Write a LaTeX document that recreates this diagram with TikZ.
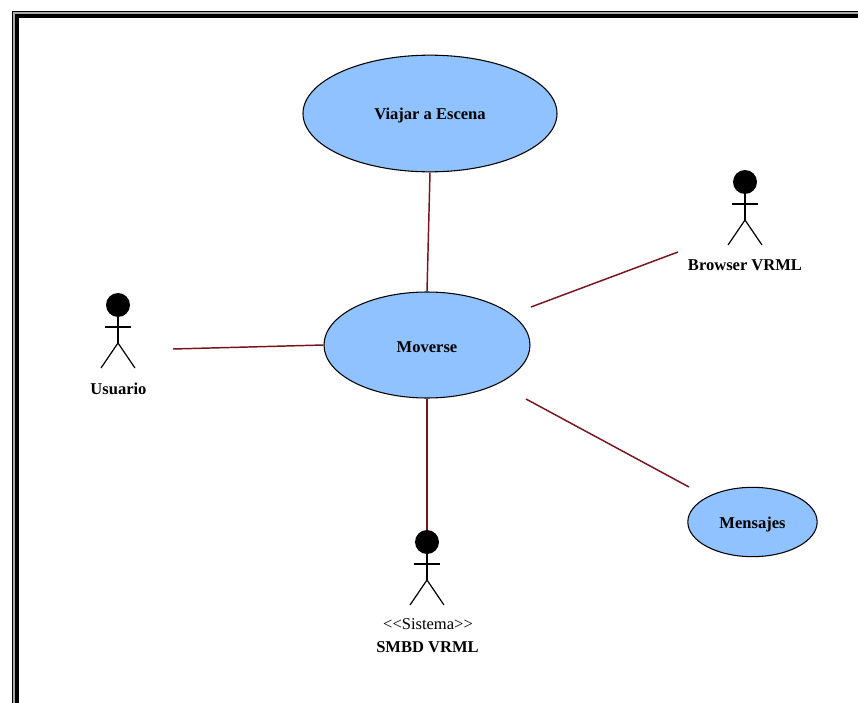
\documentclass[tikz,border=0pt]{standalone}
\usepackage{fontspec}
\setmainfont{Liberation Serif}
\usetikzlibrary{shapes.geometric}
\definecolor{uc}{RGB}{143,194,255}
\definecolor{conn}{RGB}{120,20,30}
\definecolor{fr}{RGB}{170,170,170}
\newcommand{\uctext}[1]{\raisebox{-1.8pt}[\height][\depth]{#1}}
\tikzset{x=0.75pt,y=-0.75pt,
 usecase/.style={ellipse,draw=black,line width=0.8pt,fill=uc,inner sep=0pt,font=\bfseries\fontsize{12.4}{14}\selectfont},
 link/.style={draw=conn,line width=1.1pt},
 limb/.style={draw=black,line width=0.9pt},
 lbl/.style={inner sep=0pt,font=\bfseries\fontsize{12.4}{14}\selectfont},
 stereo/.style={inner sep=0pt,font=\fontsize{12.4}{14}\selectfont}}
\newcommand{\stick}[3]{%
 \fill[black] (#1,#2) circle[radius=12];
 \path[limb] (#1,#2) ++(0,12) -- ++(0,26) coordinate (#3w);
 \path[limb] (#1,#2) ++(-13,22) -- ++(26,0);
 \path[limb] (#3w) -- ++(-17,25);
 \path[limb] (#3w) -- ++(17,25);}
\begin{document}
\begin{tikzpicture}
\useasboundingbox (0,0) rectangle (858,703);
\fill[white] (0,0) rectangle (858,703);
\fill[black] (12,11) rectangle (900,800);
\fill[fr] (13,12) rectangle (900,800);
\fill[black] (15,14) rectangle (900,800);
\fill[white] (18.5,17.5) rectangle (900,800);
\node[usecase,minimum width=190.5pt,minimum height=87.5pt] (viajar) at (430,113.5) {\uctext{Viajar a Escena}};
\node[usecase,minimum width=154.5pt,minimum height=79.5pt] (moverse) at (427,345) {\uctext{Moverse}};
\node[usecase,minimum width=97pt,minimum height=52pt] (mensajes) at (752.5,522) {\uctext{Mensajes}};
\stick{118}{305}{a}
\stick{745}{182}{b}
\stick{427}{542}{c}
\node[lbl] (usuario) at (118.5,389) {Usuario};
\node[lbl] (browser) at (745,265) {Browser VRML};
\node[stereo] (st) at (428,624) {<{}<Sistema>{}>};
\node[lbl] (smbd) at (427.5,647) {SMBD VRML};
\coordinate (pu) at (173,349);
\coordinate (pb) at (678,252);
\coordinate (pc) at (427,530);
\coordinate (pm) at (531,307);
\coordinate (pn) at (526,399);
\coordinate (pe) at (689,487);
\draw[link] (viajar.south) -- (moverse.north);
\draw[link] (pu) -- (moverse.west);
\draw[link] (pm) -- (pb);
\draw[link] (moverse.south) -- (pc);
\draw[link] (pn) -- (pe);
\end{tikzpicture}
\end{document}
